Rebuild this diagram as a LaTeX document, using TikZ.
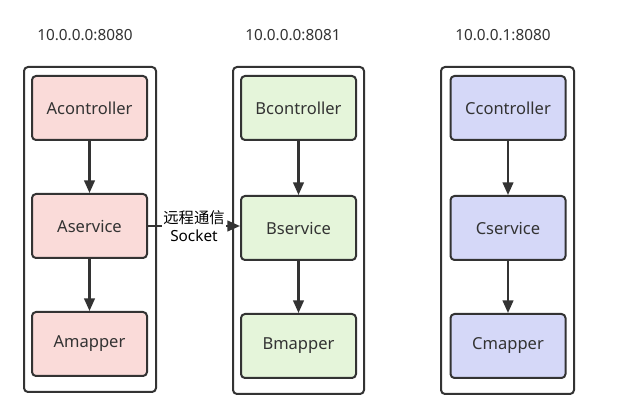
\documentclass[tikz,border=0pt]{standalone}
\usepackage{fontspec}
\setmainfont{Noto Sans}
\newfontfamily\cjk{Noto Sans CJK SC}
\usetikzlibrary{arrows.meta}
\definecolor{edge}{HTML}{333333}
\definecolor{fillA}{HTML}{FADBD9}
\definecolor{fillB}{HTML}{E5F5DA}
\definecolor{fillC}{HTML}{D5D8F8}
\begin{document}
\begin{tikzpicture}[x=0.75pt,y=-0.75pt,
  outerbox/.style={draw=edge,line width=1.5pt,rounded corners=3pt,fill=white},
  innerbox/.style={draw=edge,line width=1.5pt,rounded corners=3pt,minimum width=86.25pt,minimum height=48pt,inner sep=0pt,font=\fontsize{12.4}{14}\selectfont,text=edge},
  title/.style={font=\fontsize{11.5}{13}\selectfont,text=edge},
  flow/.style={draw=edge,line width=1.6pt,-{Triangle[length=9.5pt,width=8pt]}}]
\useasboundingbox (0,0) rectangle (618,420);
% outer boxes
\node[outerbox,minimum width=99pt,minimum height=243.75pt] (ga) at (90,229.5) {};
\node[outerbox,minimum width=98.25pt,minimum height=245.25pt] (gb) at (298.5,230.5) {};
\node[outerbox,minimum width=99.75pt,minimum height=245.25pt] (gc) at (507.5,230.5) {};
% titles
\node[title] (ta) at (85,35) {10.0.0.0:8080};
\node[title] (tb) at (293,35) {10.0.0.0:8081};
\node[title] (tc) at (503,35) {10.0.0.1:8080};
% column A
\node[innerbox,fill=fillA] (ac) at (89.5,108) {Acontroller};
\node[innerbox,fill=fillA] (as) at (89.5,226) {Aservice};
\node[innerbox,fill=fillA] (am) at (89.5,344) {Amapper};
% column B
\node[innerbox,fill=fillB] (bc) at (298.5,108) {Bcontroller};
\node[innerbox,fill=fillB] (bs) at (298.5,228) {Bservice};
\node[innerbox,fill=fillB] (bm) at (298.5,346) {Bmapper};
% column C
\node[innerbox,fill=fillC] (cc) at (508,108) {Ccontroller};
\node[innerbox,fill=fillC] (cs) at (508,228) {Cservice};
\node[innerbox,fill=fillC] (cm) at (508,346) {Cmapper};
% arrows
\draw[flow] (ac) -- (as);
\draw[flow] (as) -- (am);
\draw[flow] (bc) -- (bs);
\draw[flow] (bs) -- (bm);
\draw[flow] (cc) -- (cs);
\draw[flow] (cs) -- (cm);
\draw[flow] (as.east) -- node[fill=white,inner sep=1pt,align=center,font=\fontsize{11.5}{13.5}\selectfont,text=black] (lbl) {{\cjk 远程通信}\\Socket} (bs.west |- as.east);
\end{tikzpicture}
\end{document}
